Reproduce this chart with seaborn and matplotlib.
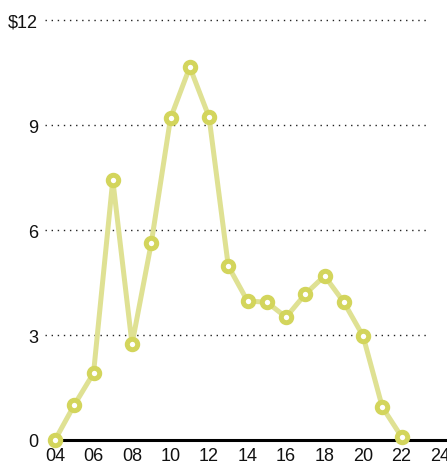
import matplotlib
matplotlib.use("Agg")
import matplotlib.pyplot as plt
import seaborn as sns
import pandas as pd

# --- data ---
years = list(range(2004, 2023))
values = [0.0, 1.0, 1.91, 7.43, 2.74, 5.63, 9.2, 10.66, 9.23, 4.97,
          3.97, 3.94, 3.51, 4.17, 4.69, 3.94, 2.97, 0.94, 0.09]
y_ticks = [0, 3, 6, 9, 12]
y_labels = ["0", "3", "6", "9", "$12"]
x_ticks = list(range(2004, 2025, 2))
x_labels = [f"{y % 100:02d}" for y in x_ticks]

df = pd.DataFrame({"year": years, "value": values})

sns.set_theme(style="white")
plt.rcParams["font.family"] = ["Liberation Sans", "DejaVu Sans"]

fig = plt.figure(figsize=(4.47, 4.64), dpi=100)
ax = fig.add_axes([0.1007, 0.0496, 0.8993, 0.9274])

line_col = "#dfe193"
mark_col = "#d3d55c"

# dotted grid lines, stopping short of the right edge
x_left, x_right = 2003.48, 2024.36
for t in y_ticks[1:]:
    ax.hlines(t, x_left, 2023.3, colors="#222222", linestyles=(0, (1, 3.4)), lw=1.0, zorder=1)

# baseline
ax.hlines(0, 2004, x_right, colors="black", lw=2.2, zorder=2, clip_on=False)

sns.lineplot(data=df, x="year", y="value", ax=ax, color=line_col, lw=3.6,
             marker="o", markersize=7.5, markerfacecolor="white",
             markeredgecolor=mark_col, markeredgewidth=3.6,
             clip_on=False, zorder=3)

ax.set_xlim(x_left, x_right)
ax.set_ylim(0, 12.3)
ax.set_xticks(x_ticks)
ax.set_xticklabels(x_labels)
ax.set_yticks(y_ticks)
ax.set_yticklabels(y_labels)
ax.tick_params(axis="both", length=0, labelsize=13, colors="#111111")
ax.tick_params(axis="y", pad=5)
ax.tick_params(axis="x", pad=5)
ax.set_xlabel("")
ax.set_ylabel("")
for s in ax.spines.values():
    s.set_visible(False)

fig.savefig("out.png", dpi=100)
